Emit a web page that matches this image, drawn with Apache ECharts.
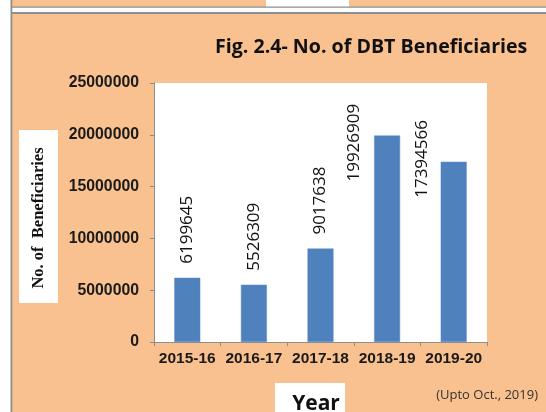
<!DOCTYPE html>
<html><head><meta charset="utf-8">
<script src="https://cdn.jsdelivr.net/npm/echarts@6/dist/echarts.min.js"></script>
<style>html,body{margin:0;padding:0;background:#fff}#c{width:546px;height:412px}</style>
</head><body><div id="c"></div>
<script>
const categories = ['2015-16', '2016-17', '2017-18', '2018-19', '2019-20'];
const beneficiaries = [6199645, 5526309, 9017638, 19926909, 17394566];
const yTicks = [0, 5000000, 10000000, 15000000, 20000000, 25000000];

const PEACH = '#F9C18F', GRAY = '#8E8E8E';
const chart = echarts.init(document.getElementById('c'), null, {renderer: 'canvas'});

// labels of the last two bars are moved to the left of the bar (as in the reference)
const movedLabel = {3: [-20, 46], 4: [-19, 36]};

const seriesData = beneficiaries.map((v, i) => {
  if (movedLabel[i]) {
    return {value: v, label: {position: movedLabel[i], distance: 0}};
  }
  return v;
});

chart.setOption({
  backgroundColor: '#fff',
  animation: false,
  graphic: [
    {type: 'rect', z: -20, shape: {x: 12, y: 0, width: 534, height: 7}, style: {fill: PEACH}},
    {type: 'rect', z: -19, shape: {x: 266, y: 0, width: 83, height: 7}, style: {fill: '#fff'}},
    {type: 'rect', z: -18, shape: {x: 11, y: 6.5, width: 535, height: 1.2}, style: {fill: GRAY}},
    {type: 'rect', z: -20, shape: {x: 12, y: 13, width: 534, height: 399}, style: {fill: PEACH}},
    {type: 'rect', z: -18, shape: {x: 11, y: 12, width: 535, height: 2}, style: {fill: GRAY}},
    {type: 'rect', z: -18, shape: {x: 10.5, y: 0, width: 1.8, height: 412}, style: {fill: GRAY}},
    {type: 'rect', z: -17, shape: {x: 19, y: 130, width: 39, height: 173}, style: {fill: '#fff'}},
    {type: 'rect', z: -17, shape: {x: 275, y: 383, width: 70, height: 29}, style: {fill: '#fff'}},
    {type: 'text', z: 10, x: 39, y: 218, rotation: Math.PI / 2,
      style: {text: 'No. of  Beneficiaries', fill: '#111', font: 'bold 16.5px "Liberation Serif", "Times New Roman", serif',
        textAlign: 'center', textVerticalAlign: 'middle'}},
    {type: 'text', z: 10, x: 316, y: 404,
      style: {text: 'Year', fill: '#111', font: 'bold 21px "Open Sans", sans-serif',
        textAlign: 'center', textVerticalAlign: 'middle'}},
    {type: 'text', z: 10, x: 538, y: 395,
      style: {text: '(Upto Oct., 2019)', fill: '#333', font: '13px "Open Sans", sans-serif',
        textAlign: 'right', textVerticalAlign: 'middle'}}
  ],
  title: {
    text: 'Fig. 2.4- No. of DBT Beneficiaries',
    left: 210, top: 32,
    textStyle: {fontFamily: '"Open Sans", sans-serif', fontWeight: 'bold', fontSize: 19.6, color: '#111'}
  },
  grid: {left: 154, right: 59, top: 83, bottom: 70, show: true, backgroundColor: '#fff', borderWidth: 0},
  xAxis: {
    type: 'category', data: categories,
    axisLine: {show: true, lineStyle: {color: GRAY, width: 1}},
    axisTick: {show: true, length: 4, lineStyle: {color: GRAY}},
    axisLabel: {interval: 0, margin: 9, fontFamily: '"Liberation Sans", Arial, sans-serif', fontWeight: 'bold', fontSize: 15.5, color: '#1a1a1a'}
  },
  yAxis: {
    type: 'value', min: 0, max: 25000000, interval: 5000000,
    axisLine: {show: true, lineStyle: {color: GRAY, width: 1}},
    axisTick: {show: true, length: 4, lineStyle: {color: GRAY}},
    splitLine: {show: false},
    axisLabel: {margin: 15, fontFamily: '"Liberation Sans", Arial, sans-serif', fontWeight: 'bold', fontSize: 15.8, color: '#1a1a1a',
      formatter: v => String(v)}
  },
  series: [{
    type: 'bar', data: seriesData, barCategoryGap: '61%',
    itemStyle: {color: '#4F81BD', borderColor: '#5B8CC6', borderWidth: 0.5},
    label: {show: true, position: 'top', rotate: 90, align: 'left', verticalAlign: 'middle', distance: 14,
      fontFamily: '"Open Sans", sans-serif', fontSize: 17, color: '#111',
      formatter: p => String(p.value)}
  }]
});
</script></body></html>
